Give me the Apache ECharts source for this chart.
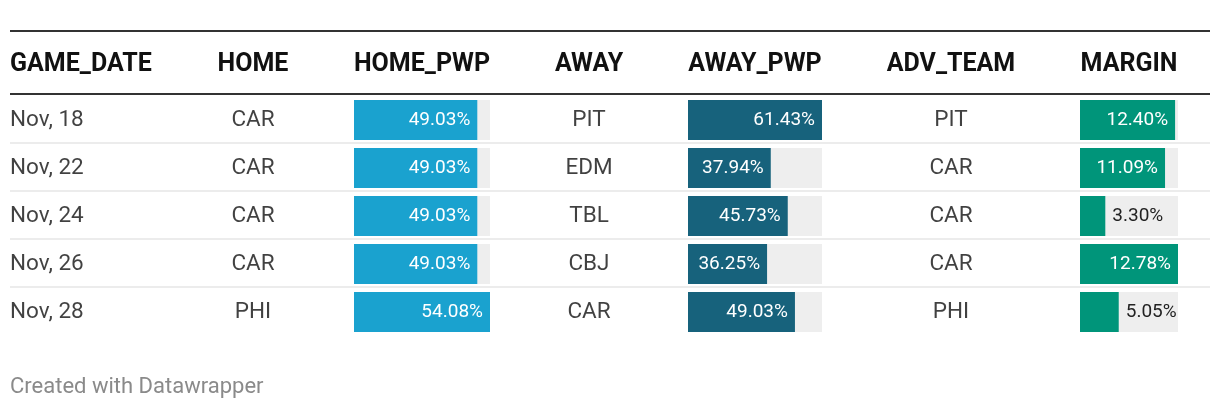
<!DOCTYPE html>
<html><head><meta charset="utf-8">
<script src="https://cdn.jsdelivr.net/npm/echarts@6/dist/echarts.min.js"></script>
<style>html,body{margin:0;padding:0;background:#fff}#c{width:1220px;height:410px}</style>
</head><body><div id="c"></div>
<script>
const headers = ['GAME_DATE','HOME','HOME_PWP','AWAY','AWAY_PWP','ADV_TEAM','MARGIN'];
const gameDates = ['Nov, 18','Nov, 22','Nov, 24','Nov, 26','Nov, 28'];
const home = ['CAR','CAR','CAR','CAR','PHI'];
const homePwp = [49.03,49.03,49.03,49.03,54.08];
const away = ['PIT','EDM','TBL','CBJ','CAR'];
const awayPwp = [61.43,37.94,45.73,36.25,49.03];
const advTeam = ['PIT','CAR','CAR','CAR','PHI'];
const margin = [12.40,11.09,3.30,12.78,5.05];
const footer = 'Created with Datawrapper';

const FONT = 'Roboto, sans-serif';
const rowsIdx = gameDates.map((_, i) => i);
const gridTop = 96, gridH = 240;

// layout: text columns (x position, alignment) and bar columns (left, width)
const textCols = [
  {data: gameDates, x: 10, align: 'left'},
  {data: home, x: 253, align: 'center'},
  {data: away, x: 589, align: 'center'},
  {data: advTeam, x: 951, align: 'center'}
];
const barCols = [
  {data: homePwp, left: 354, width: 136, color: '#1aa2cf'},
  {data: awayPwp, left: 688, width: 134, color: '#17627c'},
  {data: margin, left: 1080, width: 98, color: '#00957a'}
];
const headerPos = [{x:10,align:'left'},{x:253},{x:422},{x:589},{x:755},{x:951},{x:1129}];

const grids = [], xAxes = [], yAxes = [], series = [];
grids.push({left: 0, width: 1220, top: gridTop, height: gridH});
xAxes.push({type: 'value', min: 0, max: 1220, show: false, gridIndex: 0});
yAxes.push({type: 'category', data: rowsIdx, inverse: true, show: false, gridIndex: 0});
textCols.forEach(col => {
  series.push({
    type: 'scatter', xAxisIndex: 0, yAxisIndex: 0, symbolSize: 0, silent: true,
    data: col.data.map((t, i) => ({value: [col.x, i], name: t})),
    label: {show: true, position: 'inside', formatter: p => p.name, align: col.align,
      verticalAlign: 'middle', offset: [0, 0], color: '#111111', fontFamily: FONT, fontSize: 22.5}
  });
});
barCols.forEach((col, k) => {
  const gi = k + 1;
  const max = Math.max(...col.data);
  grids.push({left: col.left, width: col.width, top: gridTop, height: gridH});
  xAxes.push({type: 'value', min: 0, max: max, show: false, gridIndex: gi});
  yAxes.push({type: 'category', data: rowsIdx, inverse: true, show: false, gridIndex: gi});
  series.push({
    type: 'bar', xAxisIndex: gi, yAxisIndex: gi, barWidth: 40, silent: true,
    showBackground: true, backgroundStyle: {color: '#eeeeee'},
    itemStyle: {color: col.color},
    data: col.data.map(v => {
      const px = v / max * col.width;
      const inside = px > 70;
      return {value: v, label: inside ?
        {position: 'insideRight', color: '#ffffff', distance: 7} :
        {position: 'right', color: '#222222', distance: 7}};
    }),
    label: {show: true, formatter: p => p.value.toFixed(2) + '%', fontFamily: FONT, fontSize: 19}
  });
});

const graphic = [];
graphic.push({type: 'rect', shape: {x: 10, y: 30, width: 1200, height: 2}, style: {fill: '#333'}});
graphic.push({type: 'rect', shape: {x: 10, y: 93, width: 1200, height: 2}, style: {fill: '#333'}});
for (let i = 1; i < gameDates.length; i++) {
  graphic.push({type: 'rect', shape: {x: 10, y: gridTop + i * gridH / gameDates.length - 2, width: 1200, height: 2}, style: {fill: '#ececec'}});
}
headers.forEach((h, i) => {
  graphic.push({type: 'text', x: headerPos[i].x, y: 65,
    style: {text: h, font: 'bold 25px ' + FONT, fill: '#111111',
      textAlign: headerPos[i].align || 'center', textVerticalAlign: 'middle'}});
});
graphic.push({type: 'text', x: 10, y: 387, style: {text: footer, font: '22px ' + FONT, fill: '#8a8a8a', textVerticalAlign: 'middle'}});

const chart = echarts.init(document.getElementById('c'), null, {renderer: 'canvas'});
chart.setOption({animation: false, grid: grids, xAxis: xAxes, yAxis: yAxes, series: series, graphic: graphic});
</script></body></html>
